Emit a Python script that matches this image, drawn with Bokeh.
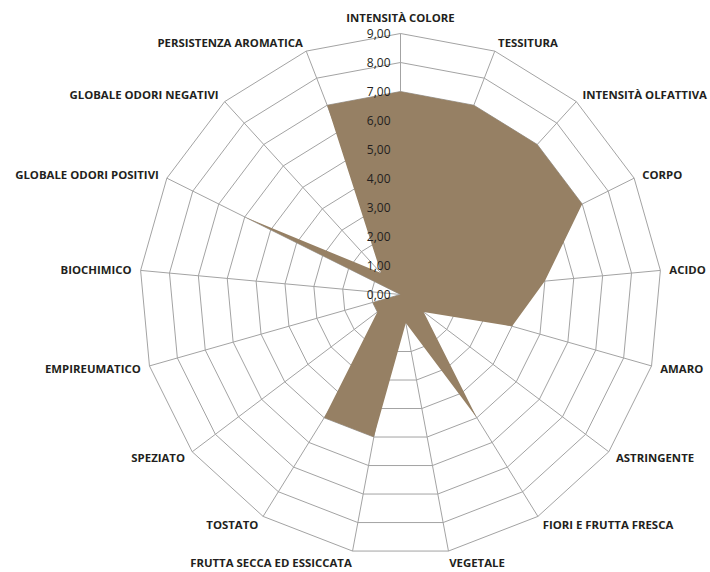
import math
from bokeh.plotting import figure
from bokeh.models import Range1d, ColumnDataSource
from bokeh.embed import file_html
from bokeh.resources import INLINE
from bokeh.core.properties import value

categories = [
    "INTENSITÀ COLORE", "TESSITURA", "INTENSITÀ OLFATTIVA", "CORPO", "ACIDO",
    "AMARO", "ASTRINGENTE", "FIORI E FRUTTA FRESCA", "VEGETALE",
    "FRUTTA SECCA ED ESSICCATA", "TOSTATO", "SPEZIATO", "EMPIREUMATICO",
    "BIOCHIMICO", "GLOBALE ODORI POSITIVI", "GLOBALE ODORI NEGATIVI",
    "PERSISTENZA AROMATICA",
]
values = [7.0, 7.0, 7.0, 7.0, 5.0, 4.0, 1.0, 5.0, 1.0, 5.0, 5.0, 1.0, 1.0, 0.0, 6.0, 1.0, 7.0]
tick_values = [0, 1, 2, 3, 4, 5, 6, 7, 8, 9]
tick_labels = ["0,00", "1,00", "2,00", "3,00", "4,00", "5,00", "6,00", "7,00", "8,00", "9,00"]

FILL = "#968064"
GRID = "#a3a3a3"
W, H = 710, 572
PX = 29.0          # pixels per unit
CX, CY = 400, 294  # centre in figure pixels

n = len(categories)
angles = [2 * math.pi * i / n for i in range(n)]
rmax = tick_values[-1]

p = figure(width=W, height=H, output_backend="svg", toolbar_location=None,
           x_range=Range1d(-CX / PX, (W - CX) / PX),
           y_range=Range1d(-(H - CY) / PX, CY / PX),
           min_border=0, outline_line_color=None)
p.axis.visible = False
p.grid.visible = False
p.background_fill_color = "white"

def pt(r, a):
    return r * math.sin(a), r * math.cos(a)

# rings
ring_xs, ring_ys = [], []
for t in tick_values[1:]:
    xs = [pt(t, a)[0] for a in angles] + [pt(t, angles[0])[0]]
    ys = [pt(t, a)[1] for a in angles] + [pt(t, angles[0])[1]]
    ring_xs.append(xs)
    ring_ys.append(ys)
p.multi_line(ring_xs, ring_ys, line_color=GRID, line_width=1)

# spokes
sp_xs = [[0, pt(rmax, a)[0]] for a in angles]
sp_ys = [[0, pt(rmax, a)[1]] for a in angles]
p.multi_line(sp_xs, sp_ys, line_color=GRID, line_width=1)

# data polygon
dx = [pt(v, a)[0] for v, a in zip(values, angles)]
dy = [pt(v, a)[1] for v, a in zip(values, angles)]
p.patch(dx, dy, fill_color=FILL, line_color=None)

# tick labels
p.text(x=[-10 / PX] * len(tick_values), y=tick_values, text=tick_labels,
       text_align="right", text_baseline="middle", text_font=value("Open Sans"),
       text_font_size="12px", text_color="#231f20")

# category labels
lx, ly, la, lb = [], [], [], []
for c, a in zip(categories, angles):
    s, co = math.sin(a), math.cos(a)
    off = (4 if co < -0.95 else 9) / PX
    x, y = pt(rmax + off, a)
    lx.append(x)
    ly.append(y)
    la.append("left" if s > 0.05 else ("right" if s < -0.05 else "center"))
    lb.append("bottom" if co > 0.95 else ("top" if co < -0.95 else "middle"))
src = ColumnDataSource(dict(x=lx, y=ly, t=categories, a=la, b=lb))
p.text(x="x", y="y", text="t", text_align="a", text_baseline="b", source=src,
       text_font=value("Open Sans"), text_font_style="bold",
       text_font_size="11.4px", text_color="#231f20")

open("out.html", "w").write(file_html(p, INLINE))
